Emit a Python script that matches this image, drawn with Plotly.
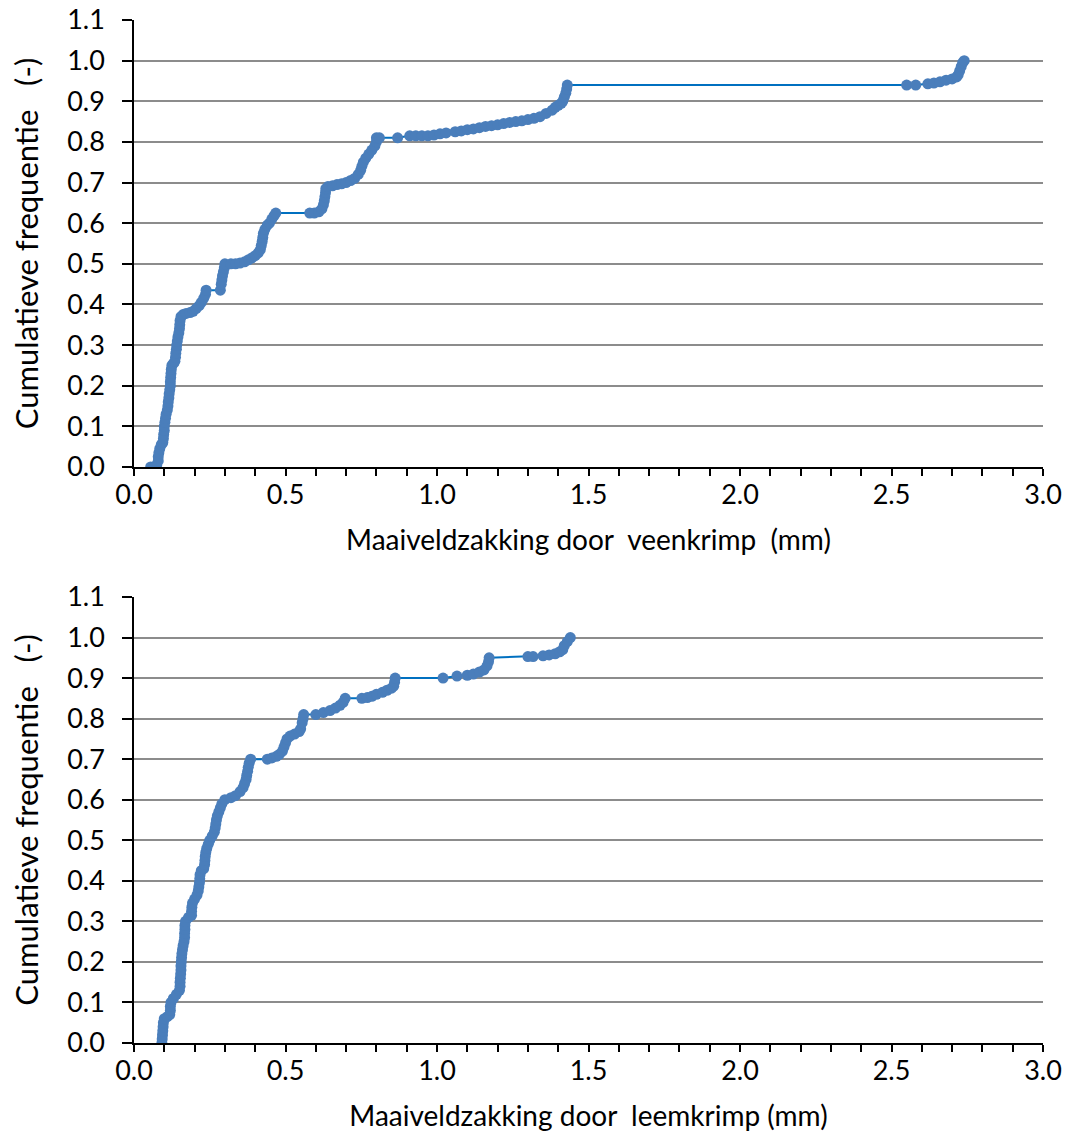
import plotly.graph_objects as go
from plotly.subplots import make_subplots

# Top: veenkrimp
veen_x = [0.055, 0.065, 0.075, 0.08, 0.08, 0.082, 0.085, 0.09, 0.095, 0.097, 0.098, 0.1, 0.1, 0.102,
          0.104, 0.106, 0.11, 0.112, 0.113, 0.115, 0.116, 0.118, 0.12, 0.12, 0.121, 0.122, 0.123, 0.125,
          0.13, 0.135, 0.137, 0.138, 0.14, 0.141, 0.143, 0.145, 0.148, 0.15, 0.151, 0.152, 0.155, 0.162,
          0.172, 0.185, 0.195, 0.205, 0.215, 0.222, 0.23, 0.236, 0.238, 0.285, 0.288, 0.29, 0.292, 0.295,
          0.298, 0.30, 0.32, 0.335, 0.35, 0.365, 0.378, 0.39, 0.40, 0.41, 0.417, 0.42, 0.423, 0.425, 0.427,
          0.432, 0.44, 0.447, 0.455, 0.462, 0.468, 0.58, 0.595, 0.61, 0.62, 0.625, 0.628, 0.63, 0.632,
          0.633, 0.64, 0.655, 0.67, 0.685, 0.70, 0.715, 0.728, 0.74, 0.748, 0.752, 0.757, 0.765, 0.775,
          0.785, 0.795, 0.80, 0.80, 0.81, 0.87, 0.91, 0.93, 0.95, 0.97, 0.99, 1.01, 1.03, 1.06, 1.08, 1.10,
          1.12, 1.14, 1.16, 1.18, 1.20, 1.22, 1.24, 1.26, 1.28, 1.30, 1.32, 1.34, 1.36, 1.38, 1.39, 1.40,
          1.41, 1.415, 1.42, 1.425, 1.428, 1.43, 2.55, 2.58, 2.62, 2.64, 2.66, 2.68, 2.70, 2.715, 2.72,
          2.725, 2.73, 2.735, 2.74]
veen_f = [0.0, 0.0, 0.005, 0.015, 0.025, 0.035, 0.045, 0.055, 0.06, 0.07, 0.08, 0.09, 0.1, 0.11,
          0.12, 0.13, 0.14, 0.15, 0.16, 0.17, 0.18, 0.19, 0.2, 0.21, 0.22, 0.23, 0.24, 0.25,
          0.255, 0.26, 0.27, 0.28, 0.29, 0.30, 0.31, 0.32, 0.33, 0.34, 0.35, 0.36, 0.37, 0.375,
          0.378, 0.38, 0.383, 0.39, 0.397, 0.405, 0.415, 0.425, 0.435, 0.435, 0.45, 0.46, 0.47, 0.48,
          0.49, 0.50, 0.50, 0.50, 0.502, 0.505, 0.51, 0.515, 0.52, 0.527, 0.535, 0.545, 0.555, 0.565, 0.575,
          0.585, 0.595, 0.60, 0.61, 0.618, 0.625, 0.625, 0.625, 0.628, 0.635, 0.645, 0.655, 0.665, 0.675,
          0.685, 0.69, 0.692, 0.695, 0.697, 0.70, 0.705, 0.71, 0.72, 0.73, 0.74, 0.75, 0.76, 0.77,
          0.78, 0.79, 0.80, 0.81, 0.81, 0.81, 0.815, 0.815, 0.815, 0.815, 0.817, 0.82, 0.822, 0.825, 0.827, 0.83,
          0.832, 0.835, 0.838, 0.84, 0.842, 0.845, 0.848, 0.85, 0.852, 0.855, 0.858, 0.862, 0.87, 0.878, 0.885, 0.89,
          0.895, 0.90, 0.91, 0.92, 0.93, 0.94, 0.94, 0.94, 0.943, 0.945, 0.948, 0.952, 0.955, 0.96, 0.965,
          0.975, 0.985, 0.995, 1.0]

# Bottom: leemkrimp
leem_x = [0.092, 0.093, 0.094, 0.095, 0.096, 0.097, 0.1, 0.11, 0.118, 0.12, 0.12, 0.122, 0.13, 0.14,
          0.15, 0.152, 0.152, 0.153, 0.154, 0.155, 0.155, 0.156, 0.157, 0.158, 0.16, 0.162, 0.165, 0.167,
          0.167, 0.168, 0.168, 0.17, 0.18, 0.19, 0.19, 0.191, 0.193, 0.2, 0.208, 0.212, 0.214, 0.216,
          0.217, 0.218, 0.222, 0.23, 0.233, 0.234, 0.235, 0.237, 0.24, 0.245, 0.25, 0.258, 0.265, 0.268,
          0.27, 0.272, 0.275, 0.28, 0.285, 0.29, 0.30, 0.32, 0.335, 0.35, 0.36, 0.365, 0.37, 0.372, 0.375,
          0.377, 0.38, 0.385, 0.44, 0.455, 0.47, 0.48, 0.49, 0.495, 0.50, 0.505, 0.515, 0.53, 0.545, 0.55,
          0.555, 0.558, 0.56, 0.60, 0.625, 0.647, 0.665, 0.68, 0.69, 0.697, 0.752, 0.77, 0.785, 0.80, 0.82,
          0.835, 0.85, 0.857, 0.86, 0.862, 1.02, 1.066, 1.10, 1.12, 1.14, 1.155, 1.165, 1.17, 1.172, 1.30,
          1.317, 1.35, 1.37, 1.39, 1.405, 1.415, 1.42, 1.43, 1.44]
leem_f = [0.0, 0.01, 0.02, 0.03, 0.04, 0.05, 0.06, 0.065, 0.07, 0.08, 0.09, 0.1, 0.11, 0.12,
          0.13, 0.14, 0.15, 0.16, 0.17, 0.18, 0.19, 0.2, 0.21, 0.22, 0.23, 0.24, 0.25, 0.26,
          0.27, 0.28, 0.29, 0.30, 0.31, 0.315, 0.325, 0.335, 0.345, 0.355, 0.365, 0.375, 0.385, 0.395,
          0.405, 0.415, 0.425, 0.43, 0.44, 0.45, 0.46, 0.47, 0.48, 0.49, 0.50, 0.51, 0.52, 0.53,
          0.54, 0.55, 0.56, 0.57, 0.58, 0.59, 0.60, 0.605, 0.61, 0.62, 0.63, 0.64, 0.65, 0.66, 0.67,
          0.68, 0.69, 0.70, 0.70, 0.703, 0.707, 0.712, 0.72, 0.73, 0.74, 0.75, 0.757, 0.762, 0.768, 0.775,
          0.79, 0.80, 0.81, 0.81, 0.815, 0.82, 0.826, 0.833, 0.84, 0.85, 0.85, 0.852, 0.855, 0.86, 0.865,
          0.87, 0.875, 0.88, 0.89, 0.90, 0.90, 0.905, 0.907, 0.91, 0.915, 0.92, 0.93, 0.94, 0.95, 0.953,
          0.953, 0.955, 0.957, 0.96, 0.965, 0.97, 0.98, 0.99, 1.0]

x_titles = ["Maaiveldzakking door\u00a0 veenkrimp\u00a0 (mm)", "Maaiveldzakking door\u00a0 leemkrimp (mm)"]
y_title = "Cumulatieve frequentie\u00a0\u00a0 (-)"

FONT = "Lato"
TICK_SIZE = 27
XTITLE_SIZE = 28
YTITLE_SIZE = 31
marker_color = "#4A7EBB"
line_color = "#0070C0"

fig = make_subplots(rows=2, cols=1, vertical_spacing=0.1)

for i, (xs, ys) in enumerate([(veen_x, veen_f), (leem_x, leem_f)], start=1):
    fig.add_trace(go.Scatter(x=xs, y=ys, mode="lines+markers",
                             line=dict(color=line_color, width=2),
                             marker=dict(color=marker_color, size=11),
                             showlegend=False), row=i, col=1)

W, H = 1066, 1135
ml, mr, mt, mb = 134, 23, 20, 92
ph = H - mt - mb
top_dom = [(H - 467 - mb) / ph, 1.0]
bot_dom = [0.0, (H - 597 - mb) / ph]

axis_common_x = dict(range=[0, 3.0], dtick=0.5, tick0=0, tickformat=".1f", automargin=False,
                     showgrid=False, zeroline=False, showline=True, linecolor="black", linewidth=1.5,
                     ticks="outside", ticklen=7, tickwidth=1.5, tickcolor="black", ticklabelstandoff=-4,
                     minor=dict(dtick=0.1, ticks="outside", ticklen=7, tickwidth=1.5, tickcolor="black", showgrid=False),
                     tickfont=dict(family=FONT, size=TICK_SIZE, color="black"),
                     title_font=dict(family=FONT, size=XTITLE_SIZE, color="black"), title_standoff=21)
axis_common_y = dict(range=[0, 1.1], dtick=0.1, tick0=0, tickformat=".1f", automargin=False,
                     showgrid=True, gridcolor="#8C8C8C", gridwidth=2, zeroline=False,
                     showline=True, linecolor="black", linewidth=1.5,
                     ticks="outside", ticklen=10, tickwidth=1.5, tickcolor="black", ticklabelstandoff=12,
                     tickfont=dict(family=FONT, size=TICK_SIZE, color="black"),
                     title_font=dict(family=FONT, size=YTITLE_SIZE, color="black"), title_standoff=19)

fig.update_xaxes(**axis_common_x)
fig.update_yaxes(**axis_common_y)
fig.update_xaxes(title_text=x_titles[0], row=1, col=1)
fig.update_xaxes(title_text=x_titles[1], row=2, col=1)
fig.update_yaxes(title_text=y_title, domain=top_dom, row=1, col=1)
fig.update_yaxes(title_text=y_title, domain=bot_dom, row=2, col=1)

fig.update_layout(width=W, height=H, margin=dict(l=ml, r=mr, t=mt, b=mb),
                  plot_bgcolor="white", paper_bgcolor="white",
                  font=dict(family=FONT, color="black"))

fig.write_html("out.html")
